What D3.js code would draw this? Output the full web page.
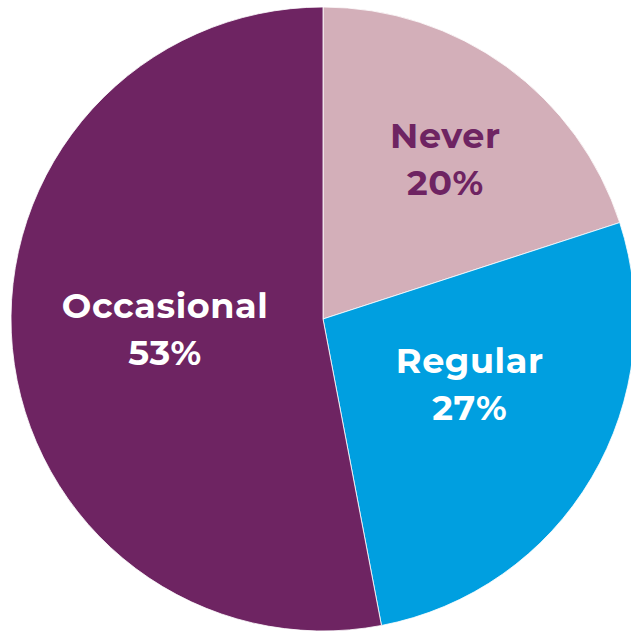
<!DOCTYPE html>
<html>
<head>
<meta charset="utf-8">
<script src="https://cdn.jsdelivr.net/npm/d3@7"></script>
<style>
  html, body { margin: 0; padding: 0; background: #ffffff; }
  svg { display: block; }
</style>
</head>
<body>
<svg id="chart" width="631" height="631"></svg>
<script>
// Survey categories and their shares (percent)
const categories = ["Never", "Regular", "Occasional"];
const values = [20, 27, 53];
const sliceColors = ["#d3afb9", "#009fe0", "#6e2462"];
const labelColors = ["#6e2462", "#ffffff", "#ffffff"];

const cx = 323, cy = 319, radius = 312;

const svg = d3.select("#chart");
const g = svg.append("g").attr("transform", `translate(${cx},${cy})`);

const data = categories.map((c, i) => ({ name: c, value: values[i], color: sliceColors[i], text: labelColors[i] }));

const pie = d3.pie().value(d => d.value).sort(null);
const arc = d3.arc().innerRadius(0).outerRadius(radius);
const arcs = pie(data);

g.selectAll("path.slice")
  .data(arcs)
  .join("path")
  .attr("class", "slice")
  .attr("d", arc)
  .attr("fill", d => d.data.color)
  .attr("stroke", "#ffffff")
  .attr("stroke-width", 0.8);

// Label placement inside each slice: radial fraction and angular position within the slice
const labelRadius = [0.645, 0.514, 0.507];
const labelAngleFrac = [0.52, 0.43, 0.51];
const labels = g.selectAll("g.label")
  .data(arcs)
  .join("g")
  .attr("class", "label")
  .attr("transform", (d, i) => {
    const a = d.startAngle + (d.endAngle - d.startAngle) * labelAngleFrac[i];
    const r = radius * labelRadius[i];
    return `translate(${Math.sin(a) * r},${-Math.cos(a) * r})`;
  });

const fontFamily = "Montserrat, 'Open Sans', Lato, sans-serif";

labels.append("text")
  .attr("text-anchor", "middle")
  .attr("y", -11)
  .attr("fill", d => d.data.text)
  .style("font-family", fontFamily)
  .style("font-weight", 700)
  .style("font-size", "35px")
  .style("letter-spacing", "0.6px")
  .text(d => d.data.name);

labels.append("text")
  .attr("text-anchor", "middle")
  .attr("y", 36)
  .attr("fill", d => d.data.text)
  .style("font-family", fontFamily)
  .style("font-weight", 700)
  .style("font-size", "35px")
  .style("letter-spacing", "0.6px")
  .text(d => d.data.value + "%");
</script>
</body>
</html>
